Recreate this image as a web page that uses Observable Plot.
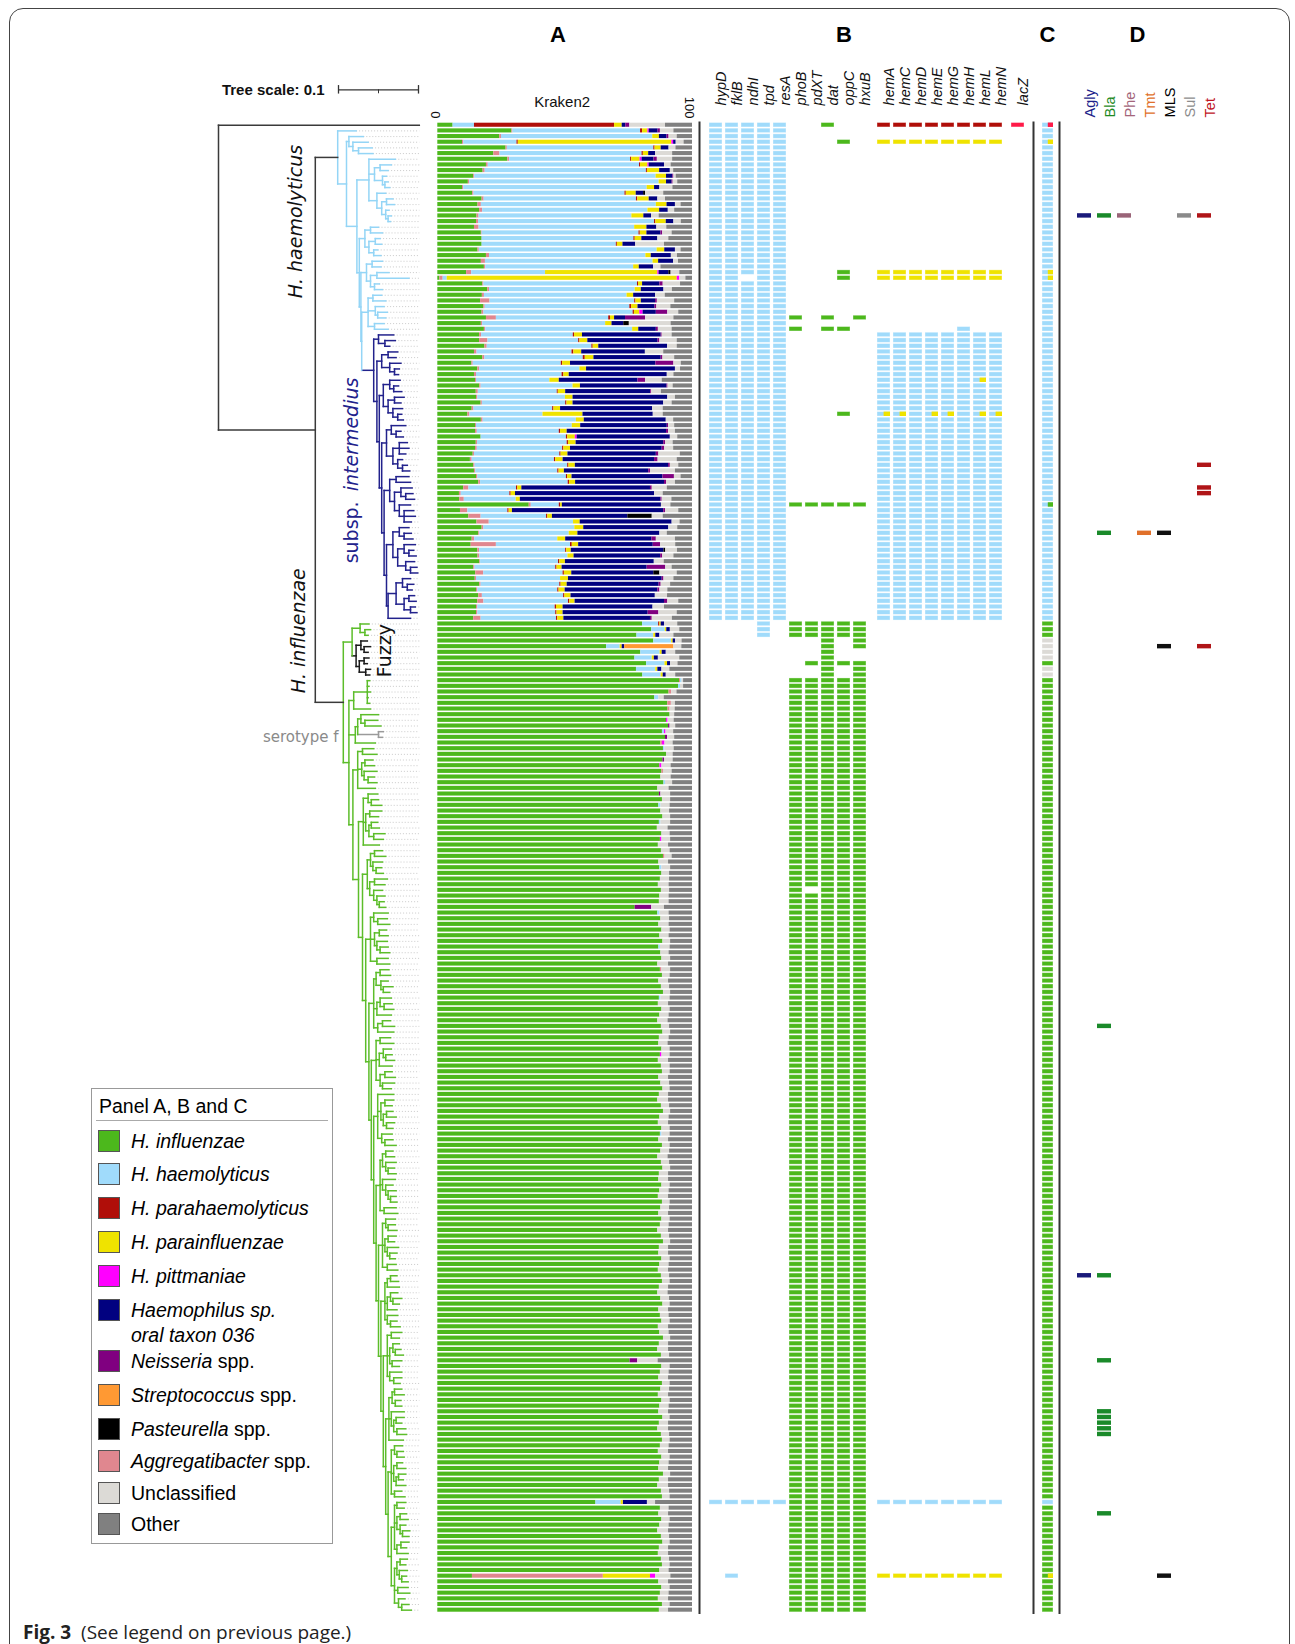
<!DOCTYPE html>
<html><head><meta charset="utf-8">
<script src="https://cdn.jsdelivr.net/npm/d3@7"></script>
<script src="https://cdn.jsdelivr.net/npm/@observablehq/plot@0.6"></script>
<style>
body{margin:0;background:#fff;font-family:"Liberation Sans",Arial,sans-serif;}
#fig{position:relative;width:1295px;height:1644px;overflow:hidden;background:#fff;}
#fig svg{position:absolute;left:0;top:0;overflow:visible;}
.border{position:absolute;left:9px;top:8px;width:1281px;height:1660px;border:1.5px solid #444;border-radius:14px;box-sizing:border-box;}
.letter{position:absolute;font:bold 22px "Liberation Sans",Arial,sans-serif;transform:translateX(-50%);top:22px;}
#legend{position:absolute;left:91px;top:1088px;width:242px;height:456px;border:1px solid #999;box-sizing:border-box;background:#fff;}
#legend .title{position:absolute;left:7px;top:6px;font-size:19.5px;}
#legend .sep{position:absolute;left:4px;right:4px;top:31px;border-top:1.5px solid #aaa;}
#legend .item{position:absolute;left:6px;font-size:19.5px;line-height:25px;}
#legend .sw{position:absolute;left:0;top:1px;width:22px;height:22px;border:1px solid #555;box-sizing:border-box;}
#legend .lab{position:absolute;left:33px;top:0;white-space:nowrap;}
#caption{position:absolute;left:23px;top:1619px;font:19px "Open Sans",sans-serif;color:#222;white-space:pre;}
</style></head><body><div id="fig"><div class="border"></div></div>
<script>
// ---------------- DATA ----------------
const W = 1295, H = 1644;
const NROWS = 263;

// Kraken2 categories (stack order) and colours
const stackOrder = ["g","a","b","r","y","m","n","p","s","k","u","o"];
const legendCodes = ["g","b","r","y","m","n","p","s","k","a","u","o"];
const legendItalic = ["H. influenzae","H. haemolyticus","H. parahaemolyticus","H. parainfluenzae","H. pittmaniae","Haemophilus sp.<br>oral taxon 036","Neisseria","Streptococcus","Pasteurella","Aggregatibacter","",""];
const legendPlain = ["","","","","",""," spp."," spp."," spp."," spp.","Unclassified","Other"];
const catColor = {g:"#4cb81c",b:"#a0dbfb",r:"#b00e09",y:"#efe300",m:"#ff00ff",n:"#010180",p:"#800080",s:"#ff9933",k:"#000000",a:"#e0878f",u:"#dcdad6",o:"#808080"};

// Kraken2 composition per isolate (percent), tree order
const kraken = [
"g6 b8.4 r55 y3 n1.4 p1.6 u14 o10.6","g29.1 a0.4 b50.1 r0.8 y2.1 m0.5 n3.5 p0.9 u5.3 o7.3","g24.3 a0.7 b59.4 y2.6 n3 p0.8 u3.2 o6","g9.7 a0.5 b20.9 r0.5 y60.3 m0.7 n1 u3.1 o3.3","g26.8 a0.5 b57.5 r0.5 y2.4 n3.1 u2.7 o6.5","g22 a2.4 b55.8 r0.5 y2.1 n2.7 u6.7 o7.8","g27.5 a0.7 b47.5 r0.4 y3.3 m0.8 n4.7 p1.3 u6 o7.8","g19.1 a0.7 b59.4 r0.4 y2.9 m0.5 n6 u2.6 o8.4","g17.8 a0.8 b63.3 r0.4 y4.8 n4.2 u1.3 o7.4","g14.1 a0.4 b71.2 y4.1 n2.5 p0.4 u0.9 o6.4",
"g12 a0.5 b74.4 y2.9 n2.2 p0.4 u1.8 o5.8","g9.7 a0.5 b72 y2.9 n2.1 u5.1 o7.7","g13.7 a0.5 b59.3 r0.5 y3.9 n2.9 k0.8 u7.1 o11.3","g17.4 a0.8 b59.8 r0.5 y4.5 n3.4 u3 o10.6","g15.8 a1.3 b68.7 y4.2 n3.3 u2.2 o4.5","g16.4 a1.2 b64.9 y4.6 n3.4 u2.5 o7","g15.4 a0.8 b60 y4.7 n3 u3 o13.1","g15.2 a0.8 b69.1 r0.5 y4.1 n3 u2.9 o4.4","g14.4 a1.8 b61.1 y4.8 n3.9 u3.9 o10.1","g17.1 a0.3 b61.6 r0.5 y2.6 n5.5 p0.7 u3.7 o8",
"g17.4 b59.6 r0.5 y2.6 n6.3 u4.3 o9.3","g17.4 b52.7 r0.4 y2.2 n5 u11.3 o11","g15.8 a0.5 b69.8 y3 n4.2 u2.2 o4.5","g19.1 a1.2 b61.4 y2.1 n7.9 u2.4 o5.9","g17.1 a1.6 b65.8 y2.2 n5.9 u1.9 o5.5","g18.3 a0.5 b58.1 y2.2 n5.6 u2.9 o12.4","g11.3 a2 b29 y44.1 m0.5 n3.8 k0.9 u3.4 o5","g0.8 a1.3 b1.6 y90.3 m1 u2.4 o2.6","g17.7 a0.4 b60.3 r0.4 y1.6 n6.8 p1.3 u6.8 o4.7","g19.6 a0.7 b57.2 y2.4 n8.9 u3.3 o7.9",
"g17.5 a0.8 b56 y2.6 n8.6 u3.8 o10.7","g16.8 a3.7 b56.8 r0.5 y2.1 n5.6 p0.7 u6.8 o7","g18.1 a0.5 b56.8 r0.7 y2.5 n6.7 p0.7 u5.5 o8.5","g17.4 a0.7 b58.6 r0.5 y2.1 m1.3 n5.2 p4.5 u4.3 o5.4","g19.1 a3.9 b44.1 r0.7 y1.6 n4.3 p7.9 u11.1 o7.3","g17.1 a0.5 b48.3 y2.5 n4.6 k2.2 u16.4 o8.4","g18.3 a0.5 b57.7 y2.4 n6.9 p0.8 u5.4 o8","g16.4 a0.8 b36 r0.5 y3.1 n30.9 p0.4 u3.9 o8","g16.4 a3.3 b35.6 r0.5 y3.1 n27.6 p0.7 u6.8 o6","g18.5 a0.9 b41.1 r0.5 y2.2 n27 u3.8 o6",
"g14.4 a1 b37.3 r0.7 y3.1 n25 u7.2 o11.3","g17.7 a0.8 b38.6 r0.8 y3.4 n26.4 p0.7 u4.6 o7","g13.4 a0.5 b34.6 r0.5 y3.1 n33.5 p7.1 u2.9 o4.4","g15.7 a0.8 b39.3 y2.6 n34.9 u2 o4.7","g14.4 a0.8 b33.6 r0.7 y2.1 n38.5 u2.6 o7.3","g14.8 a0.4 b28.8 y3.7 n30.9 p3 u6.5 o11.9","g16.5 a0.5 b36.1 y2.9 n34 p0.4 u2 o7.6","g15.1 a0.8 b31 r0.4 y2.9 n33.4 p0.4 u3.8 o12.2","g15.2 a0.5 b34.4 y3 n37.2 u3 o6.7","g17 a0.5 b32.7 r0.5 y2.4 n35.6 u3.3 o8",
"g13.5 a0.7 b30.9 r0.5 y2.6 n36.1 u4.2 o11.5","g11.8 a0.8 b28.7 y15.7 n27.6 u3.9 o11.5","g17.1 a0.7 b36.6 y3.1 n32.2 u2.9 o7.4","g14.8 a0.4 b37.6 y3.3 n34 p0.5 u2.4 o7","g14.8 a0.7 b32.2 r0.5 y2.6 n39 p0.8 u2.7 o6.7","g17 b33.5 r0.5 y3 m0.7 n36.6 u2.9 o5.8","g15.1 a0.5 b35.2 r0.5 y3 n34.4 p0.7 u3 o7.6","g14.8 a0.7 b33.5 r0.5 y2.6 n36 p1 u3.5 o7.4","g13.9 a0.5 b33.5 r0.5 y2.7 n34.7 p1 u8.4 o4.8","g12.8 a0.7 b32.3 r0.5 y2.9 n35.9 p1.4 u7.5 o6",
"g14.1 a0.5 b36.4 r0.5 y2.5 n36.6 p0.7 u3.3 o5.4","g14.4 a0.5 b32.2 r0.5 y2.1 n33.1 p0.7 u9.8 o6.7","g15.2 a0.5 b34.8 r0.5 y1.7 n35.7 p4.5 u2.6 o4.5","g16.1 a0.7 b34.4 r0.5 y2.4 n34.9 p0.8 u3.5 o6.7","g10.2 a2 b18.7 r0.5 y1.6 n50.5 p0.7 u5.9 o9.9","g8.5 a0.7 b19.1 r0.5 y1.7 n54.6 u3.4 o11.5","g8.6 a1.8 b20.4 y1.6 n55.2 p0.5 u3.8 o8.1","g35.9 a0.8 b11 r0.5 y0.7 n38.9 u3.7 o8.5","g8.9 a2.9 b15.7 r0.5 y1.3 n59.4 p0.7 u5.2 o5.4","g12.2 a4.8 b25.7 r0.5 y1.8 n29.6 k9.6 u4.3 o11.5",
"g15.4 a4.8 b33.1 y2.6 n36.1 u3.1 o4.9","g17.4 a0.7 b35.7 y3.5 n33.4 u3.5 o5.8","g16.1 a0.4 b35.1 y3.4 n32.2 u2.9 o9.9","g13.5 a1 b32.6 y3.1 n33.9 p1.7 u7.5 o6.7","g13.1 a9.9 b29.1 r0.7 y2.5 n29.3 p2.9 u5.9 o6.6","g15.7 a0.7 b33.8 r0.4 y1.8 n36.4 k0.7 u4.6 o5.9","g15.8 a0.7 b34.6 y2.4 n34 p0.8 u4.4 o7.3","g16.5 a0.3 b30.6 r0.5 y2.2 n34.9 u3.9 o11.1","g14.1 a0.5 b31.7 r0.5 y2 n33.4 p7.3 u2.5 o8","g14.9 a3.1 b31.2 r0.5 y2.9 n32.2 k2.4 u6.8 o6",
"g14.7 a0.5 b33 y3.1 n36.8 p0.7 u3.9 o7.3","g16.5 a0.5 b30.9 r0.5 y2.4 n36.1 p0.8 u3.7 o8.6","g15.2 a0.5 b31.4 r0.5 y2.4 n36.4 p0.8 u3.1 o9.7","g16.1 a1.4 b31.9 r0.5 y2.4 n33.1 u4.8 o9.8","g15.7 a2.4 b33.2 r0.5 y2.1 n35.1 p1.3 u4.3 o5.4","g15.2 a0.5 b30.4 r0.5 y2.6 n35.3 u4.5 o11","g15.2 a0.5 b30.6 r0.5 y2.4 n33.4 p4.2 u7.2 o6","g14.1 a2.9 b29.6 r0.5 y2.4 n34 p0.7 u7.9 o7.9","g80.4 b6.3 r0.5 y0.5 n1.3 u5.2 o5.8","g84 b5.3 y0.6 n1.4 u3.7 o5",
"g78.2 b6.6 y0.8 n1.6 u5.5 o7.3","g84.8 b7 y0.6 n1 u2.5 o4.1","g66.3 b5.3 y0.8 n1 s19.3 u3.1 o4.2","g79.7 b7.6 y0.8 n1.6 u3.7 o6.6","g77.4 b6.8 y0.8 n1.6 u8.4 o5","g82 b7.2 y1 n1.2 u2.9 o5.7","g78 b7.6 y0.8 n1.6 u3.1 o8.9","g80.5 b7.2 y0.8 n1.2 u3.7 o6.6","g94.9 a0.4 b0.6 u0.6 o3.5","g94.5 b0.8 u1.2 o3.5",
"g90.8 a1 u2.1 o6.1","g85.2 b1.6 u2.1 o11.1","g90.3 a1.4 u1.6 o6.7","g90.4 a0.8 u2 o6.8","g91.2 u1.8 o7","g89.8 m0.6 u2.4 o7.2","g90.6 p0.6 u2.2 o6.6","g88.2 b0.8 m0.6 u3 o7.4","g89.4 p0.8 u2.8 o7","g87.6 a0.6 m1 u3.2 o7.6",
"g88.6 b0.6 u3.6 o7.2","g89.8 u2.6 o7.6","g88.4 p0.6 u3.4 o7.6","g87.2 m0.8 u3.6 o8.4","g88 a0.6 u3.4 o8","g87.6 u4 o8.4","g88.8 b0.6 u2.8 o7.8","g86.4 u4.4 o9.2","g87 p0.6 u3.8 o8.6","g88.2 u3.2 o8.6",
"g86.8 b0.8 u3.6 o8.8","g87.6 u3.4 o9","g88.4 u3 o8.6","g87 b0.6 u3.8 o8.6","g86.2 u4.2 o9.6","g88 u3.2 o8.8","g87.4 m0.6 u3.4 o8.6","g86.6 u4 o9.4","g87.8 u3.4 o8.8","g88.6 a0.6 u2.8 o8",
"g86.8 u3.8 o9.4","g87.2 b0.8 u3.4 o8.6","g88 u3 o9","g87.4 u3.6 o9","g86.6 u4.2 o9.2","g87.8 u3.2 o9","g87.2 u3.6 o9.2","g87 u3.8 o9.2","g77.5 p6.5 u5 o11","g86.4 b0.8 u3.6 o9.2",
"g87.6 u3.4 o9","g86.8 u4 o9.2","g88 u3.2 o8.8","g87.2 u3.6 o9.2","g88.4 u3 o8.6","g86.8 b0.6 u3.8 o8.8","g87.6 u3.2 o9.2","g88 u3.4 o8.6","g86.4 u4.2 o9.4","g87.4 a0.6 u3.4 o8.6",
"g88.2 u3 o8.8","g86.8 u3.8 o9.4","g87.8 u3.2 o9","g88.6 u2.8 o8.6","g87 b0.6 u3.6 o8.8","g86.6 u4 o9.4","g88 u3.2 o8.8","g87.2 u3.6 o9.2","g86.4 u4 o9.6","g87.8 u3.2 o9",
"g88.4 u3 o8.6","g87 u3.8 o9.2","g86.8 u3.6 o9.6","g88 u3.2 o8.8","g87.4 m0.6 u3.2 o8.8","g86.6 u4 o9.4","g87.8 u3.4 o8.8","g88.2 u3 o8.8","g86.8 u3.8 o9.4","g87.6 u3.4 o9",
"g88.4 u2.8 o8.8","g87 u3.6 o9.4","g86.4 u4.2 o9.4","g87.8 u3.2 o9","g88.6 u2.8 o8.6","g87.2 u3.6 o9.2","g86.6 u4 o9.4","g88 u3.2 o8.8","g87.4 b0.6 u3.2 o8.8","g86.8 u3.8 o9.4",
"g88.2 u3 o8.8","g87.6 u3.4 o9","g86.4 u4 o9.6","g87.8 u3.2 o9","g88.4 u3 o8.6","g87 u3.6 o9.4","g86.8 u3.8 o9.4","g88 u3.2 o8.8","g87.2 u3.6 o9.2","g86.6 u4 o9.4",
"g88.2 u3 o8.8","g87.6 u3.4 o9","g86.8 u3.8 o9.4","g88 u3.2 o8.8","g87.4 u3.4 o9.2","g86.4 u4.2 o9.4","g87.8 u3.2 o9","g88.6 u2.8 o8.6","g87 u3.6 o9.4","g86.8 u3.8 o9.4",
"g88 u3.2 o8.8","g87.2 u3.6 o9.2","g86.6 u4 o9.4","g87.8 u3.2 o9","g88.2 u3 o8.8","g87 u3.6 o9.4","g86.4 u4 o9.6","g87.6 u3.4 o9","g88.4 u2.8 o8.8","g86.8 u3.8 o9.4",
"g87.4 u3.4 o9.2","g88 u3.2 o8.8","g86.6 u4 o9.4","g87.2 u3.6 o9.2","g88.6 u2.8 o8.6","g87 u3.6 o9.4","g86.4 u4.2 o9.4","g87.8 u3.2 o9","g75.5 p3 u8 o13.5","g88 u3.2 o8.8",
"g87.4 u3.4 o9.2","g86.8 u3.8 o9.4","g88.2 u3 o8.8","g87.6 u3.4 o9","g86.6 u4 o9.4","g88 u3.2 o8.8","g87.2 u3.6 o9.2","g86.8 u3.8 o9.4","g88.4 u2.8 o8.8","g87 u3.6 o9.4",
"g86.4 u4.2 o9.4","g87.8 u3.2 o9","g88.2 u3 o8.8","g87.4 u3.4 o9.2","g86.6 u4 o9.4","g88 u3.2 o8.8","g87.2 u3.6 o9.2","g86.8 u3.8 o9.4","g88.6 u2.8 o8.6","g87 u3.6 o9.4",
"g86.4 u4.2 o9.4","g87.8 u3.2 o9","g88.2 u3 o8.8","g62.1 b9.9 n9.5 y0.8 u3.2 o14.5","g87.4 u3.4 o9.2","g86.8 u3.8 o9.4","g88 u3.2 o8.8","g87.2 u3.6 o9.2","g86.4 u4.2 o9.4","g87.8 u3.2 o9",
"g88.4 u2.8 o8.8","g87 u3.6 o9.4","g86.6 u4 o9.4","g87.8 u3.2 o9","g88.2 u3 o8.8","g87.2 u3.6 o9.2","g13.6 a51.4 y18.5 m2 u6 o8.5","g86.8 u3.8 o9.4","g88 u3.2 o8.8","g87.4 u3.4 o9.2",
"g86.6 u4 o9.4","g88.2 u3 o8.8","g87 u3.6 o9.4"
];

// Panel B genes (run-length encoded presence per isolate)
const genesB1 = ["hypD","fklB","ndhI","tpd","resA","phoB","pdXT","dat","oppC","hxuB"];
const genesB2 = ["hemA","hemC","hemD","hemE","hemG","hemH","hemL","hemN"];
const genesB3 = ["lacZ"];
const geneRuns = {
  hypD:"b88 .155 b1 .19", fklB:"b88 .155 b1 .12 b1 .6", ndhI:"b27 .1 b60 .155 b1 .19", tpd:"b91 .152 b1 .19", resA:"b88 .155 b1 .19",
  phoB:".34 g1 .1 g1 .30 g1 .20 g3 .7 g165", pdXT:".67 g1 .20 g3 .4 g1 .2 g37 .1 g127",
  dat:"g1 .33 g1 .1 g1 .30 g1 .20 g175", oppC:".3 g1 .22 g2 .8 g1 .14 g1 .15 g1 .20 g3 .4 g1 .2 g165",
  hxuB:".34 g1 .32 g1 .20 g5 .2 g168",
  hemA:"r1 .2 y1 .22 y2 .9 b14 x1 b36 .155 b1 .12 y1 .6", hemC:"r1 .2 y1 .22 y2 .9 b14 x1 b36 .155 b1 .12 y1 .6",
  hemD:"r1 .2 y1 .22 y2 .9 b51 .155 b1 .12 y1 .6", hemE:"r1 .2 y1 .22 y2 .9 b14 x1 b36 .155 b1 .12 y1 .6",
  hemG:"r1 .2 y1 .22 y2 .9 b14 x1 b36 .155 b1 .12 y1 .6", hemH:"r1 .2 y1 .22 y2 .8 b52 .155 b1 .12 y1 .6",
  hemL:"r1 .2 y1 .22 y2 .9 b8 x1 b5 x1 b36 .155 b1 .12 y1 .6", hemN:"r1 .2 y1 .22 y2 .9 b14 x1 b36 .155 b1 .12 y1 .6",
  lacZ:"l1 .262"
};
// Panel C (left / right halves)
const cLeftRuns = "b88 g3 u4 g1 u2 g145 b1 g19";
const cRightRuns = "l1 b2 y1 b22 y2 b39 g1 b20 g3 u4 g1 u2 g145 b1 g12 y1 g6";
const cellColor = {b:"#a0dbfb",g:"#4cb81c",y:"#efe300",r:"#b00e09",l:"#ff1a48",u:"#dcdad6"};

// Panel D resistance determinants
const drugs = ["Agly","Bla","Phe","Tmt","MLS","Sul","Tet"];
const drugLabelColor = ["#1c1f8a","#1f8a1f","#a4657a","#e0702a","#000000","#8c8c8c","#c0141e"];
const drugMarkColor = ["#1a1a7a","#1a8a2a","#9a6478","#e0702a","#111111","#8a8a8a","#b01518"];
const resRows = [16,16,16,16,16,60,64,65,72,72,72,92,92,159,203,203,218,227,228,229,230,231,245,256];
const resDrug = ["Agly","Bla","Phe","Sul","Tet","Tet","Tet","Tet","Bla","Tmt","MLS","MLS","Tet","Bla","Agly","Bla","Bla","Bla","Bla","Bla","Bla","Bla","Bla","MLS"];

// Phylogeny (branch lengths x 1e-3); node names = branch colour codes (stem+subtree)
const S1 = "(:18,(:19,(:17,:18):7):5)";
const S2 = "(:33,((:14,:10):7,(:5,(:4,:6):3):10):7,(:11,((:8,:10):6,(:4,(:4,:3):3):5):6):10)";
const S3 = "((:10,:15):7,((:6,:8):8,(:5,:9):6):5)";
const S4 = "((:13,:11):7,((:15,:40):8,(:6,:10):5):5)";
const S5 = "((:11,:16):6,(:11,(:12,:10):3):9,(:12,:17):8)";
const I3 = "((:12,:10):8,(:14,(:6,:5):6):10)";
const I5 = "((:13,(:6,:10):5):8,((:12,:8):8,(:12,(:5,:7):6):6):6)";
const I7 = "((:18,(:6,:9):6):6,((:10,:12,:8):8,(:6,(:6,:9):6):6):8)";
const I9 = "((:16,:18):8,((:14,(:9,:11):6):8,(:14,(:12,:14,:9):6):6):6)";
const I11 = "((:12,(:9,:11):6):8,((:14,(:6,:9):6):8,(:11,(:8,:9):6):10):6)";
const I13 = "((:10,(:8,:6):6):8,((:7,:9):6,(:6,:8):8):10)";
const INTER = `((:19,(:13,:6):8):6,(${I3}:6,(${I5}:5,(${I7}:6,(${I9}:7,(${I11}:8,(${I13}:10,:28):2):3):3):3):3):4)i`;
const HAEM = `(:23,(${S1}:3,(${S2}:15,(${S3}:7,(${S4}:7,(${S5}:8,${INTER}:15):1):2):3):13):11)kh`;
const FUZ = "((:11,(:7,:4):6):10,((:8,(:8,:5):4):6,((:6,:4):6,(:6,:5):8):4)f:5)";
const R1 = "((:3,:2,:4,:1,:3):17,:21)";
const R2 = "(((:22,(:16,:20):5):4,(:6,:5)s:26):3,:25)";
const B = [
"((:14,:18):6,((:10,:12):4,(:16,(:8,:11):5):3):5,:22)",
"((:12,(:9,:13):4):6,((:15,:11):5,((:8,:10):3,(:14,:12):6):4):3,:20)",
"(((:10,:14):5,(:12,(:7,:9):4):3):4,((:16,:13):6,(:11,(:10,(:6,:8):3):4):5):3)",
"((:18,(:12,:15):5):4,((:9,:11):6,(:13,(:10,:12):4):3):5,(:14,:16):8)",
"(((:11,:13):5,(:9,(:12,:8):3):6):3,((:14,(:10,:12):5):4,:18):4,((:10,:15):6,:20):5)",
"((:13,:17):5,((:10,(:8,:11):3):5,:16):4,((:9,:13):6,(:15,:11):3):5)",
"(:20,((:11,:9):5,((:8,:12):4,(:10,:8):4):3):4,(:13,(:10,:14):4):5)",
"(((:9,:11):4,(:13,(:8,:10):3):4):3,(:16,(:9,(:10,(:7,:8):3):3):4):3,(:15,:17):5)",
"((:12,(:9,:11):3):4,((:10,:8):4,(:14,(:9,:7):3):3):3,(:11,:13):6)",
"(((:8,:10):4,:15):3,((:9,(:11,:8):3):4,:12):3,(:13,(:8,:12):4):3)",
"((:13,:10):5,((:8,(:7,:10):3):4,(:12,:9):3):3,(:15,(:10,:8):5):3)",
"(((:9,:12):3,(:7,:8):4):4,(:16,((:10,:7):3,(:11,:12):4):3):3,:18)",
"((:10,(:8,:9):3):4,((:7,:11):4,((:9,:6):3,:12):3):3,(:9,:13):4)",
"((:11,:9):3,((:8,:10):4,(:7,(:9,:8):3):4):3,((:10,:7):5,:14):3)",
"(((:9,:7):4,(:10,(:6,:8):3):3):3,(:13,:15):4,(:8,(:9,:12):4):5)"];
const SPINE = `(${B[0]}:6,(${B[1]}:6,(${B[2]}:6,(${B[3]}:6,(${B[4]}:6,(${B[5]}:6,(${B[6]}:5,(${B[7]}:5,(${B[8]}:5,(${B[9]}:5,(${B[10]}:5,(${B[11]}:4,(${B[12]}:4,(${B[13]}:4,${B[14]}:4):4):3):3):3):3):3):3):3):3):4):4):5):7)`;
const INFL = `(${FUZ}:11,(${R1}:6,${R2}:8,${SPINE}:5):7)kg`;
const newick = `(:251,(${HAEM}:28,${INFL}:35)k:121)k;`;
const treeColors = {k:"#3a3a3a",h:"#94d5f6",i:"#22228c",g:"#5cbd2a",f:"#1a1a1a",s:"#9a9a9a"};
const treeScale = {x:0.15, len:0.1, label:"Tree scale: 0.1"};
const cladeLabelsItalic = [
  {label:"H. haemolyticus", x:0.0963, row:17.0},
  {label:"H. influenzae", x:0.100, row:89.2}
];
const cladeLabelsPlain = [{label:"Fuzzy", x:0.208, row:92.7}];

// ---------------- HELPERS ----------------
const Y0 = 121.9, Y1 = 1612.5;
const rowIds = d3.range(NROWS);
function rle(s){const out=[];s.split(" ").forEach(t=>{const c=t[0],n=+t.slice(1);for(let i=0;i<n;i++)out.push(c);});return out;}
const base = {width:W,height:H,marginTop:Y0,marginBottom:H-Y1,style:{background:"none",overflow:"visible",fontFamily:"'Liberation Sans',Arial,sans-serif"}};
const yBand = p => ({type:"band",domain:rowIds,paddingInner:p,paddingOuter:p/2,align:0.5,axis:null});
const fig = document.getElementById("fig");
function add(svg){fig.appendChild(svg);}

// ---------------- TREE ----------------
function parseNewick(str){
  str = str.replace(/\s+/g,""); let i=0;
  function parse(){
    const node={children:[],name:"",len:0};
    if(str[i]==="("){i++;node.children.push(parse());while(str[i]===","){i++;node.children.push(parse());}i++;}
    let name="";while(i<str.length && !":,();".includes(str[i]))name+=str[i++];
    node.name=name;
    if(str[i]===":"){i++;let num="";while(i<str.length && !",();".includes(str[i]))num+=str[i++];node.len=+num/1000;}
    return node;
  }
  return parse();
}
const tree = parseNewick(newick);
const segs=[], leaves=[]; let leafCount=0;
function layout(n,parentDepth,parentSub,isRoot){
  n.depth = parentDepth + n.len;
  const stemKey = n.name ? n.name[0] : parentSub;
  const subKey = n.name ? n.name[n.name.length-1] : parentSub;
  if(!n.children.length){n.y=leafCount++;leaves.push(n);}
  else{
    n.children.forEach(c=>layout(c,n.depth,subKey,false));
    const a=n.children[0].y,b=n.children[n.children.length-1].y;
    n.y=(a+b)/2;
    segs.push({x1:n.depth,x2:n.depth,y1:a,y2:b,color:treeColors[subKey]});
  }
  if(!isRoot) segs.push({x1:parentDepth,x2:n.depth,y1:n.y,y2:n.y,color:treeColors[stemKey]});
}
layout(tree,0,"k",true);
const ALIGN = leaves[0].depth;
const sbRow = -6.25;
const lblFont = "'DejaVu Sans',sans-serif";

add(Plot.plot({...base, marginLeft:218, marginRight:W-458,
  x:{domain:[0,0.3],axis:null}, y:{domain:[-0.5,NROWS-0.5],reverse:true,axis:null}, color:{type:"identity"},
  marks:[
    Plot.link(leaves.filter(l=>l.depth<ALIGN-0.001),{x1:"depth",x2:()=>ALIGN,y1:"y",y2:"y",stroke:"#c4c4c4",strokeWidth:0.9,strokeDasharray:"1,2"}),
    Plot.link(segs,{x1:"x1",x2:"x2",y1:"y1",y2:"y2",stroke:"color",strokeWidth:1.5,strokeLinecap:"square"}),
    Plot.ruleY([treeScale],{x1:d=>d.x,x2:d=>d.x+d.len,y:()=>sbRow,stroke:"#333",strokeWidth:1.3}),
    Plot.ruleX([treeScale.x,treeScale.x+treeScale.len],{x:d=>d,y1:()=>sbRow-0.75,y2:()=>sbRow+0.75,stroke:"#333",strokeWidth:1.3}),
    Plot.ruleX([treeScale.x+treeScale.len/2],{x:d=>d,y1:()=>sbRow,y2:()=>sbRow+0.7,stroke:"#333",strokeWidth:1}),
    Plot.text([treeScale],{x:"x",y:()=>sbRow,text:"label",textAnchor:"end",dx:-14,fontWeight:"bold",fontSize:15,fill:"#111"}),
    Plot.text(cladeLabelsItalic,{x:"x",y:"row",text:"label",rotate:-90,fontSize:19,fontFamily:lblFont,fontStyle:"italic",fill:"#111"}),
    Plot.text(cladeLabelsPlain,{x:"x",y:"row",text:"label",rotate:-90,fontSize:19,fontFamily:lblFont,fill:"#111"}),
    Plot.text(["subsp."],{x:()=>0.1669,y:()=>77.3,rotate:-90,textAnchor:"start",fontSize:19,fontFamily:lblFont,fill:"#22228c"}),
    Plot.text(["intermedius"],{x:()=>0.1669,y:()=>77.3,dy:-72,rotate:-90,textAnchor:"start",fontSize:19,fontStyle:"italic",fontFamily:lblFont,fill:"#22228c"}),
    Plot.text(["serotype f"],{x:()=>0.15,y:()=>107.9,textAnchor:"end",fontSize:15,fontFamily:lblFont,fill:"#8a8a8a"})
  ]}));

// ---------------- PANEL A (Kraken2) ----------------
const kr=[];
kraken.forEach((s,i)=>s.split(" ").forEach(t=>kr.push({row:i,cat:t[0],v:+t.slice(1)})));
add(Plot.plot({...base, marginLeft:437.3, marginRight:W-692,
  x:{domain:[0,100],axis:null}, y:yBand(0.28),
  color:{domain:stackOrder,range:stackOrder.map(c=>catColor[c])},
  marks:[
    Plot.barX(kr,{x:"v",y:"row",fill:"cat",order:stackOrder}),
    Plot.text(["Kraken2"],{frameAnchor:"top",dy:-26,dx:-3,fontSize:15,fill:"#111"}),
    Plot.text([0,100],{x:d=>d,frameAnchor:"top",rotate:90,textAnchor:"end",dy:-4,dx:2,fontSize:13,fill:"#111"})
  ]}));

// ---------------- PANEL B ----------------
function geneCells(genes){
  const out=[];
  genes.forEach(g=>rle(geneRuns[g]).forEach((c,row)=>{ if(c!==".") out.push({gene:g,row,left:c==="x"?"b":c,right:c==="x"?"y":c}); }));
  return out;
}
function panelB(genes,left,right){
  const cells=geneCells(genes);
  return Plot.plot({...base, marginLeft:left, marginRight:W-right,
    x:{type:"band",domain:genes,paddingInner:0.17,paddingOuter:0.085,axis:null}, y:yBand(0.22), color:{type:"identity"},
    marks:[
      Plot.cell(cells,{x:"gene",y:"row",fill:d=>cellColor[d.left],stroke:"#ffffff",strokeOpacity:0.45,strokeWidth:0.8}),
      Plot.cell(cells.filter(d=>d.left!==d.right),{x:"gene",y:"row",fill:d=>cellColor[d.right],insetLeft:6.6}),
      Plot.text(genes,{x:d=>d,frameAnchor:"top",rotate:-90,textAnchor:"start",dy:-17,fontSize:14.5,fontStyle:"italic",fill:"#111"})
    ]});
}
add(panelB(genesB1,708,868));
add(panelB(genesB2,875.5,1003.5));
add(panelB(genesB3,1009.5,1025.5));
// separator A|B
add(Plot.plot({...base, marginLeft:699, marginRight:W-700, x:{domain:[0,1],axis:null}, y:{axis:null},
  marks:[Plot.frame({anchor:"left",stroke:"#333",strokeWidth:2})]}));

// ---------------- PANEL C ----------------
const cL=rle(cLeftRuns), cR=rle(cRightRuns);
const cCells=rowIds.map(r=>({col:"C",row:r,left:cL[r],right:cR[r]}));
add(Plot.plot({...base, marginLeft:1033, marginRight:W-1059,
  x:{type:"band",domain:["C"],paddingInner:0,paddingOuter:0.62,align:0.6,axis:null}, y:yBand(0.22), color:{type:"identity"},
  marks:[
    Plot.cell(cCells,{x:"col",y:"row",fill:d=>cellColor[d.left],stroke:"#ffffff",strokeOpacity:0.45,strokeWidth:0.8}),
    Plot.cell(cCells.filter(d=>d.left!==d.right),{x:"col",y:"row",fill:d=>cellColor[d.right],insetLeft:5.8}),
    Plot.frame({anchor:"left",stroke:"#333",strokeWidth:2}),
    Plot.frame({anchor:"right",stroke:"#333",strokeWidth:2})
  ]}));

// ---------------- PANEL D ----------------
const dMarks=resRows.map((r,i)=>({row:r,drug:resDrug[i]}));
add(Plot.plot({...base, marginLeft:1070.6, marginRight:W-1216.4,
  x:{type:"band",domain:drugs,paddingInner:0.32,paddingOuter:0.16,axis:null}, y:yBand(0.22), color:{type:"identity"},
  marks:[
    Plot.cell(dMarks,{x:"drug",y:"row",fill:d=>drugMarkColor[drugs.indexOf(d.drug)]}),
    Plot.text(drugs,{x:d=>d,frameAnchor:"top",rotate:-90,textAnchor:"start",dy:-5,fontSize:14.5,fill:(d,i)=>drugLabelColor[i]})
  ]}));

// ---------------- HTML annotations ----------------
[["A",558],["B",844],["C",1047.5],["D",1137.5]].forEach(([t,x])=>{const d=document.createElement("div");d.className="letter";d.style.left=x+"px";d.textContent=t;fig.appendChild(d);});
const leg=document.createElement("div");leg.id="legend";
let html='<div class="title">Panel A, B and C</div><div class="sep"></div>';
const tops=[40,73,107,141,175,209,260,294,328,360,392,423];
legendCodes.forEach((c,i)=>{
  html+=`<div class="item" style="top:${tops[i]}px"><div class="sw" style="background:${catColor[c]}"></div><div class="lab"><i>${legendItalic[i]}</i>${legendPlain[i]}</div></div>`;
});
leg.innerHTML=html;fig.appendChild(leg);
const cap=document.createElement("div");cap.id="caption";cap.innerHTML='<b>Fig. 3</b>  (See legend on previous page.)';fig.appendChild(cap);
</script></body></html>
